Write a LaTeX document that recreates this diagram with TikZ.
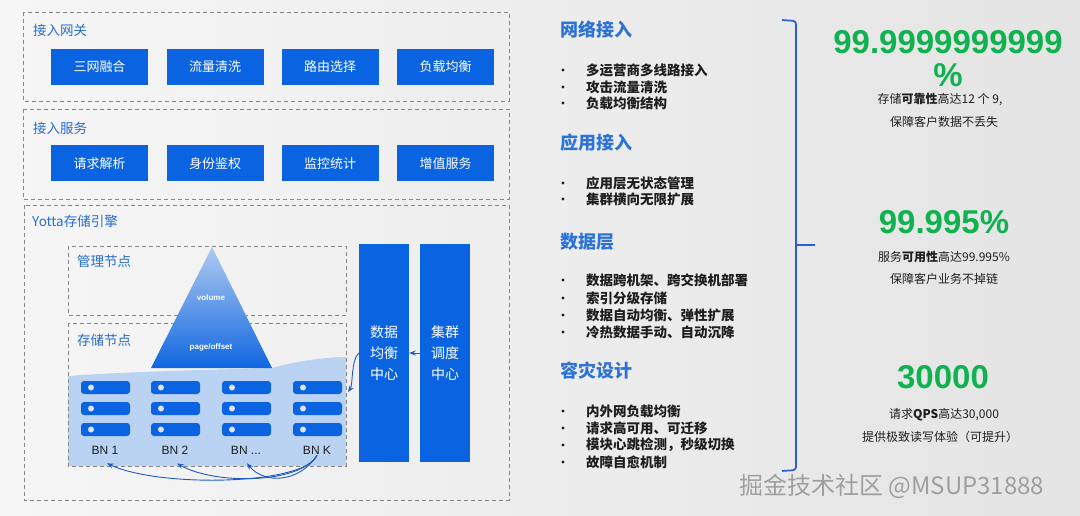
\documentclass[tikz,border=0pt]{standalone}
\usepackage{fontspec}
\setmainfont{Noto Sans CJK SC}
\newfontfamily\lat{Liberation Sans}
\usetikzlibrary{arrows.meta}
\definecolor{bblue}{RGB}{10,100,226}
\definecolor{lblue}{RGB}{186,211,242}
\definecolor{tblue}{RGB}{40,110,205}
\definecolor{hblue}{RGB}{45,115,215}
\definecolor{ggreen}{RGB}{16,178,80}
\definecolor{dgray}{RGB}{135,135,135}
\definecolor{txt}{RGB}{30,30,30}
\definecolor{brk}{RGB}{40,95,215}
\definecolor{arrc}{RGB}{30,90,200}
\begin{document}
\begin{tikzpicture}[x=1pt,y=-1pt,
 dbox/.style={draw=dgray, dash pattern=on 4pt off 3pt, line width=0.8pt},
 bbox/.style={fill=bblue, text=white, minimum width=97pt, minimum height=36pt, inner sep=0pt, font=\fontsize{13}{15}\selectfont},
 vbar/.style={fill=bblue, text=white, minimum width=50pt, minimum height=218pt, inner sep=0pt, align=center, font=\fontsize{14}{21}\selectfont},
 sec/.style={text=tblue, anchor=west, inner sep=0pt, font=\fontsize{13.5}{16}\selectfont},
 head/.style={text=hblue, anchor=west, inner sep=0pt, font=\fontsize{18}{20}\selectfont\bfseries},
 bul/.style={text=txt, anchor=west, inner sep=0pt, font=\fontsize{13.5}{16}\selectfont\bfseries},
 big/.style={text=ggreen, inner sep=0pt, font=\lat\bfseries\fontsize{33}{36}\selectfont},
 sub/.style={text=txt, inner sep=0pt, font=\fontsize{12}{14}\selectfont},
 bn/.style={text=txt, inner sep=1pt, font=\lat\fontsize{12}{14}\selectfont},
 tri/.style={text=white, inner sep=0pt, font=\lat\bfseries\fontsize{8}{10}\selectfont},
 arr/.style={draw=arrc, line width=0.9pt, -{Stealth[length=6.5pt,width=5pt]}},
]
\useasboundingbox (0,0) rectangle (1080,516);
\shade[left color={rgb,255:red,246;green,246;blue,246}, right color={rgb,255:red,228;green,228;blue,228}] (0,0) rectangle (1080,516);

% ---- left panel
\draw[dbox] (23,12) rectangle (509,101);
\draw[dbox] (23,109) rectangle (509,199);
\node[sec] (lg) at (33,30) {接入网关};
\node[sec] (ls) at (33,128) {接入服务};
\node[bbox] (g1) at (99.5,67) {三网融合};
\node[bbox] (g2) at (215,67) {流量清洗};
\node[bbox] (g3) at (330,67) {路由选择};
\node[bbox] (g4) at (445.5,67) {负载均衡};
\node[bbox] (a1) at (99.5,163.5) {请求解析};
\node[bbox] (a2) at (215,163.5) {身份鉴权};
\node[bbox] (a3) at (330,163.5) {监控统计};
\node[bbox] (a4) at (445.5,163.5) {增值服务};

\draw[dbox] (24,205) rectangle (509,500);
\node[sec] (ly) at (32,221) {Yotta存储引擎};

% light storage region
\fill[lblue] (68,376) .. controls (120,372) and (200,370) .. (272,368)
  .. controls (300,360) and (330,357) .. (346,357) -- (346,466) -- (68,466) -- cycle;
\draw[dbox] (68,246) rectangle (346,315);
\draw[dbox] (68,323) rectangle (346,466);
\node[sec] (lm) at (77,261) {管理节点};
\node[sec] (lc) at (77,340) {存储节点};

% triangle
\shade[top color={rgb,255:red,175;green,203;blue,240}, bottom color={rgb,255:red,16;green,102;blue,226}] (212,247) -- (272,368) -- (151,368) -- cycle;
\node[tri] (tv) at (211,298) {volume};
\node[tri] (tp) at (211,347) {page/offset};

% servers
\foreach \x in {81,151,222,293}{
  \foreach \y in {381,402,423}{
    \fill[bblue, rounded corners=3pt] (\x,\y) rectangle ++(49,13);
    \fill[white!88!blue] (\x+10,\y+6.5) circle (3);
  }
}
\node[bn] (bn1) at (105,450) {BN 1};
\node[bn] (bn2) at (175,450) {BN 2};
\node[bn] (bn3) at (246,450) {BN ...};
\node[bn] (bnk) at (317,450) {BN K};

\draw[arr] (bnk.south) .. controls (305,485) and (160,488) .. ([xshift=2pt,yshift=-8pt]bn1.south);
\draw[arr] (bnk.south) .. controls (300,484) and (215,485) .. ([xshift=2pt,yshift=-8pt]bn2.south);
\draw[arr] (bnk.south) .. controls (300,482) and (265,485) .. ([xshift=1pt,yshift=-8pt]bn3.south);

% vertical bars
\node[vbar] (bal) at (384,353) {数据\\均衡\\中心};
\node[vbar] (sch) at (445,353) {集群\\调度\\中心};
\draw[arr] (sch.west) -- (bal.east);
\coordinate (kin) at (348,392);
\draw[arr] (bal.west) .. controls (351,360) and (353,385) .. (kin);

% ---- middle column
\node[head] (h1) at (560,30) {网络接入};
\node[bul] (b11) at (586,70) {多运营商多线路接入};
\node[bul] (b12) at (586,87) {攻击流量清洗};
\node[bul] (b13) at (586,103) {负载均衡结构};
\node[head] (h2) at (560,143) {应用接入};
\node[bul] (b21) at (586,183) {应用层无状态管理};
\node[bul] (b22) at (586,199) {集群横向无限扩展};
\node[head] (h3) at (560,242) {数据层};
\node[bul] (b31) at (586,280) {数据跨机架、跨交换机部署};
\node[bul] (b32) at (586,298) {索引分级存储};
\node[bul] (b33) at (586,315) {数据自动均衡、弹性扩展};
\node[bul] (b34) at (586,332) {冷热数据手动、自动沉降};
\node[head] (h4) at (560,371) {容灾设计};
\node[bul] (b41) at (586,411) {内外网负载均衡};
\node[bul] (b42) at (586,428) {请求高可用、可迁移};
\node[bul] (b43) at (586,445) {模块心跳检测，秒级切换};
\node[bul] (b44) at (586,462) {故障自愈机制};
\foreach \y in {70,87,103,183,199,280,298,315,332,411,428,445,462}
  \fill[txt] (563,\y) circle (1.7);

% bracket
\draw[brk, line width=1.7pt, rounded corners=3pt] (782,20) -- (796,21) -- (796,470) -- (782,471);
\draw[brk, line width=1.7pt] (796,245) -- (815,245);

% ---- right column
\node[big] (n1a) at (948,42) {99.9999999999};
\node[big] (n1b) at (948,75) {\%};
\node[sub] (s1a) at (940,100) {存储\textbf{可靠性}高达12 个 9,};
\node[sub] (s1b) at (944,122) {保障客户数据不丢失};
\node[big] (n2) at (944,222) {99.995\%};
\node[sub] (s2a) at (944,257) {服务\textbf{可用性}高达99.995\%};
\node[sub] (s2b) at (944,279) {保障客户业务不掉链};
\node[big] (n3) at (943,377) {30000};
\node[sub] (s3a) at (944,415) {请求\textbf{QPS}高达30,000};
\node[sub] (s3b) at (940,437) {提供极致读写体验（可提升）};

% watermark
\node[anchor=west, inner sep=0pt, text=gray!75, font=\fontsize{24}{26}\selectfont] (wm) at (739,486) {掘金技术社区 @MSUP31888};
\end{tikzpicture}
\end{document}
